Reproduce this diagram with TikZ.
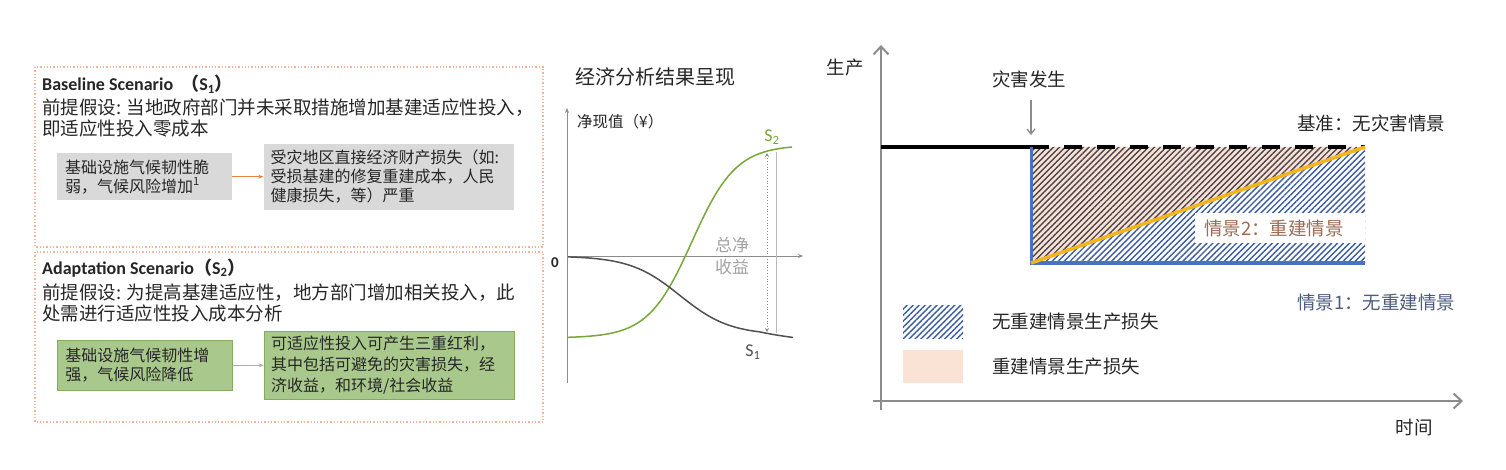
\documentclass[tikz,border=0pt]{standalone}
\usepackage{fontspec}
\newfontfamily\cjk{Noto Sans CJK SC}
\newfontfamily\lat{Carlito}
\usetikzlibrary{arrows.meta, positioning, patterns.meta}
\definecolor{frameline}{HTML}{F2B49A}
\definecolor{txtdark}{HTML}{262626}
\definecolor{boxgray}{HTML}{D9D9D9}
\definecolor{boxgreen}{HTML}{A9C98C}
\definecolor{boxgreenline}{HTML}{80AD5E}
\definecolor{linkorange}{HTML}{E8853F}
\definecolor{curvegreen}{HTML}{76A83A}
\definecolor{curvedark}{HTML}{505050}
\definecolor{axisgray}{HTML}{8C8C8C}
\definecolor{lossblue}{HTML}{4A72C0}
\definecolor{hatchblue}{HTML}{3B5BA5}
\definecolor{hatchgray}{HTML}{4A4550}
\definecolor{lossorange}{HTML}{F2B51E}
\definecolor{peach}{HTML}{FAE3D4}
\definecolor{rebuildtxt}{HTML}{9C6B55}
\definecolor{norebuildtxt}{HTML}{4D5B7C}

\begin{document}
\begin{tikzpicture}[x=1pt, y=-1pt,
    frame/.style={draw=frameline, dotted, line width=1.3pt},
    title/.style={anchor=west, inner sep=0pt, text=txtdark,
                  font=\lat\bfseries\fontsize{18}{20}\selectfont},
    premise/.style={anchor=west, inner sep=0pt, align=left, text=txtdark,
                    font=\cjk\fontsize{18.5}{21}\selectfont},
    graybox/.style={rectangle, fill=boxgray, align=left, inner xsep=8pt,
                    text=txtdark, font=\cjk\fontsize{16}{19}\selectfont},
    greenbox/.style={graybox, fill=boxgreen, draw=boxgreenline, line width=0.8pt},
    link/.style={-{Stealth[length=5pt, width=4pt]}, line width=0.8pt},
    axis/.style={-{Stealth[length=5pt, width=4pt]}, axisgray, line width=0.8pt},
    bigaxis/.style={-{Straight Barb[length=8pt, width=15pt]}, axisgray, line width=2pt},
    lbl/.style={inner sep=0pt, text=txtdark, font=\cjk\fontsize{18.5}{22}\selectfont},
    hatch/.style={pattern={Lines[angle=45, distance=4.2pt, line width=1.4pt]}},
]
\useasboundingbox (0,0) rectangle (1506,470);

% Baseline scenario panel
\draw[frame] (35,67) rectangle (543,247);
\node[title] (base) at (42,84) {Baseline Scenario\ \ {\cjk （}S\textsubscript{1}{\cjk ）}};
\node[premise] (prem1) at (42,117.5) {前提假设: 当地政府部门并未采取措施增加基建适应性投入，\\即适应性投入零成本};
\node[graybox, anchor=north west, text width=159pt, minimum height=47pt] (b1) at (57,153)
     {基础设施气候韧性脆\\弱，气候风险增加\textsuperscript{1}};
\node[graybox, right=31pt of b1, inner xsep=7pt, text width=236pt, minimum height=66pt] (b2)
     {受灾地区直接经济财产损失（如:\\受损基建的修复重建成本，人民\\健康损失，等）严重};
\draw[link, linkorange] (b1) -- (b2);

% Adaptation scenario panel
\draw[frame] (35,252) rectangle (543,422);
\node[title] (adapt) at (42,268) {Adaptation Scenario{\cjk （}S\textsubscript{2}{\cjk ）}};
\node[premise] (prem2) at (42,302.5) {前提假设: 为提高基建适应性，地方部门增加相关投入，此\\处需进行适应性投入成本分析};
\node[greenbox, anchor=north west, text width=159pt, minimum height=50pt] (b3) at (57,340)
     {基础设施气候韧性增\\强，气候风险降低};
\node[greenbox, right=31pt of b3, inner xsep=7pt, text width=236pt, minimum height=68pt,
      font=\cjk\fontsize{16}{21}\selectfont] (b4)
     {可适应性投入可产生三重红利，\\其中包括可避免的灾害损失，经\\济收益，和环境/社会收益};
\draw[link, axisgray!70] (b3) -- (b4);

% Economic result chart
\node[lbl, font=\cjk\fontsize{20}{24}\selectfont] (res) at (655,77) {经济分析结果呈现};
\coordinate (vb) at (567,383);
\coordinate (vt) at (567,108);
\coordinate (hl) at (567,256);
\coordinate (hr) at (803,256);
\draw[axis] (vb) -- (vt);
\draw[axis] (hl) -- (hr);
\node[inner sep=0pt, font=\lat\bfseries\fontsize{15}{16}\selectfont, text=txtdark] (zero) at (555,263) {0};
\node[lbl, anchor=west, font=\cjk\fontsize{15.5}{18}\selectfont] (npv) at (577,122) {净现值（¥）};
\draw[curvegreen, line width=1.5pt] plot[domain=568:792, samples=80, smooth]
     (\x, {338-193/(1+exp(-(\x-692)/22))});
\draw[curvedark, line width=1.5pt] plot[domain=568:793, samples=80, smooth]
     (\x, {256+79/(1+exp(-(\x-680)/25))+0.1*max(0,\x-760)});
\node[inner sep=0pt, text=curvegreen, font=\lat\fontsize{18}{20}\selectfont] (s2) at (772,137) {S\textsubscript{2}};
\node[inner sep=0pt, text=curvedark, font=\lat\fontsize{18}{20}\selectfont] (s1) at (753,352) {S\textsubscript{1}};
\coordinate (gt) at (767,153);
\coordinate (gb) at (767,332);
\coordinate (wt) at (776,152);
\coordinate (wb) at (776,333);
\draw[{Stealth[length=4pt, width=4pt]}-{Stealth[length=4pt, width=4pt]}, dotted, axisgray, line width=0.8pt] (gt) -- (gb);
\draw[axisgray!60, line width=0.8pt] (wt) -- (wb);
\node[lbl, align=center, text=axisgray!80, font=\cjk\fontsize{17}{22}\selectfont] (gain) at (732,256) {总净\\收益};

% Production loss chart
\coordinate (po) at (881,410);
\coordinate (pt) at (881,45);
\coordinate (tl) at (873,401);
\coordinate (tr) at (1463,401);
\draw[bigaxis] (po) -- (pt);
\draw[bigaxis] (tl) -- (tr);
\node[lbl] (prod) at (845,68) {生产};
\node[lbl] (time) at (1414,428) {时间};

\coordinate (st) at (881,147);
\coordinate (d0) at (1031,147);
\coordinate (d1) at (1031,263);
\coordinate (e0) at (1365,147);
\coordinate (e1) at (1365,263);
\fill[peach] (d0) -- (e0) -- (d1) -- cycle;
\fill[hatch, pattern color=hatchgray] (d0) -- (e0) -- (d1) -- cycle;
\fill[hatch, pattern color=hatchblue] (d1) -- (e0) -- (e1) -- cycle;
\node[fill=white, anchor=west, inner xsep=9pt, text width=152pt, align=left, minimum height=30pt,
      text=rebuildtxt, font=\cjk\fontsize{18.5}{22}\selectfont] (sc2) at (1195,228) {情景2：重建情景};
\draw[black, line width=4pt] (st) -- (d0);
\draw[black, line width=4pt, dash pattern=on 18pt off 15pt] (d0) -- (e0);
\draw[lossblue, line width=3pt] (d0) -- (d1) -- (e1);
\draw[lossorange, line width=3.5pt] (d1) -- (e0);

\node[lbl] (dis) at (1029,79) {灾害发生};
\coordinate (da) at (1031,100);
\coordinate (db) at (1031,135);
\draw[-{Straight Barb[length=5pt, width=8pt]}, axisgray, line width=1.3pt] (da) -- (db);
\node[lbl, anchor=west] (sc0) at (1297,123) {基准：无灾害情景};
\node[lbl, anchor=west, text=norebuildtxt] (sc1) at (1297,302) {情景1：无重建情景};

% Legend
\node[hatch, pattern color=hatchblue, minimum width=60pt, minimum height=33pt, inner sep=0pt] (lg1) at (933,321.5) {};
\node[lbl, right=29pt of lg1] (lt1) {无重建情景生产损失};
\node[fill=peach, minimum width=60pt, minimum height=33pt, inner sep=0pt] (lg2) at (933,366.5) {};
\node[lbl, right=29pt of lg2] (lt2) {重建情景生产损失};

\end{tikzpicture}
\end{document}
